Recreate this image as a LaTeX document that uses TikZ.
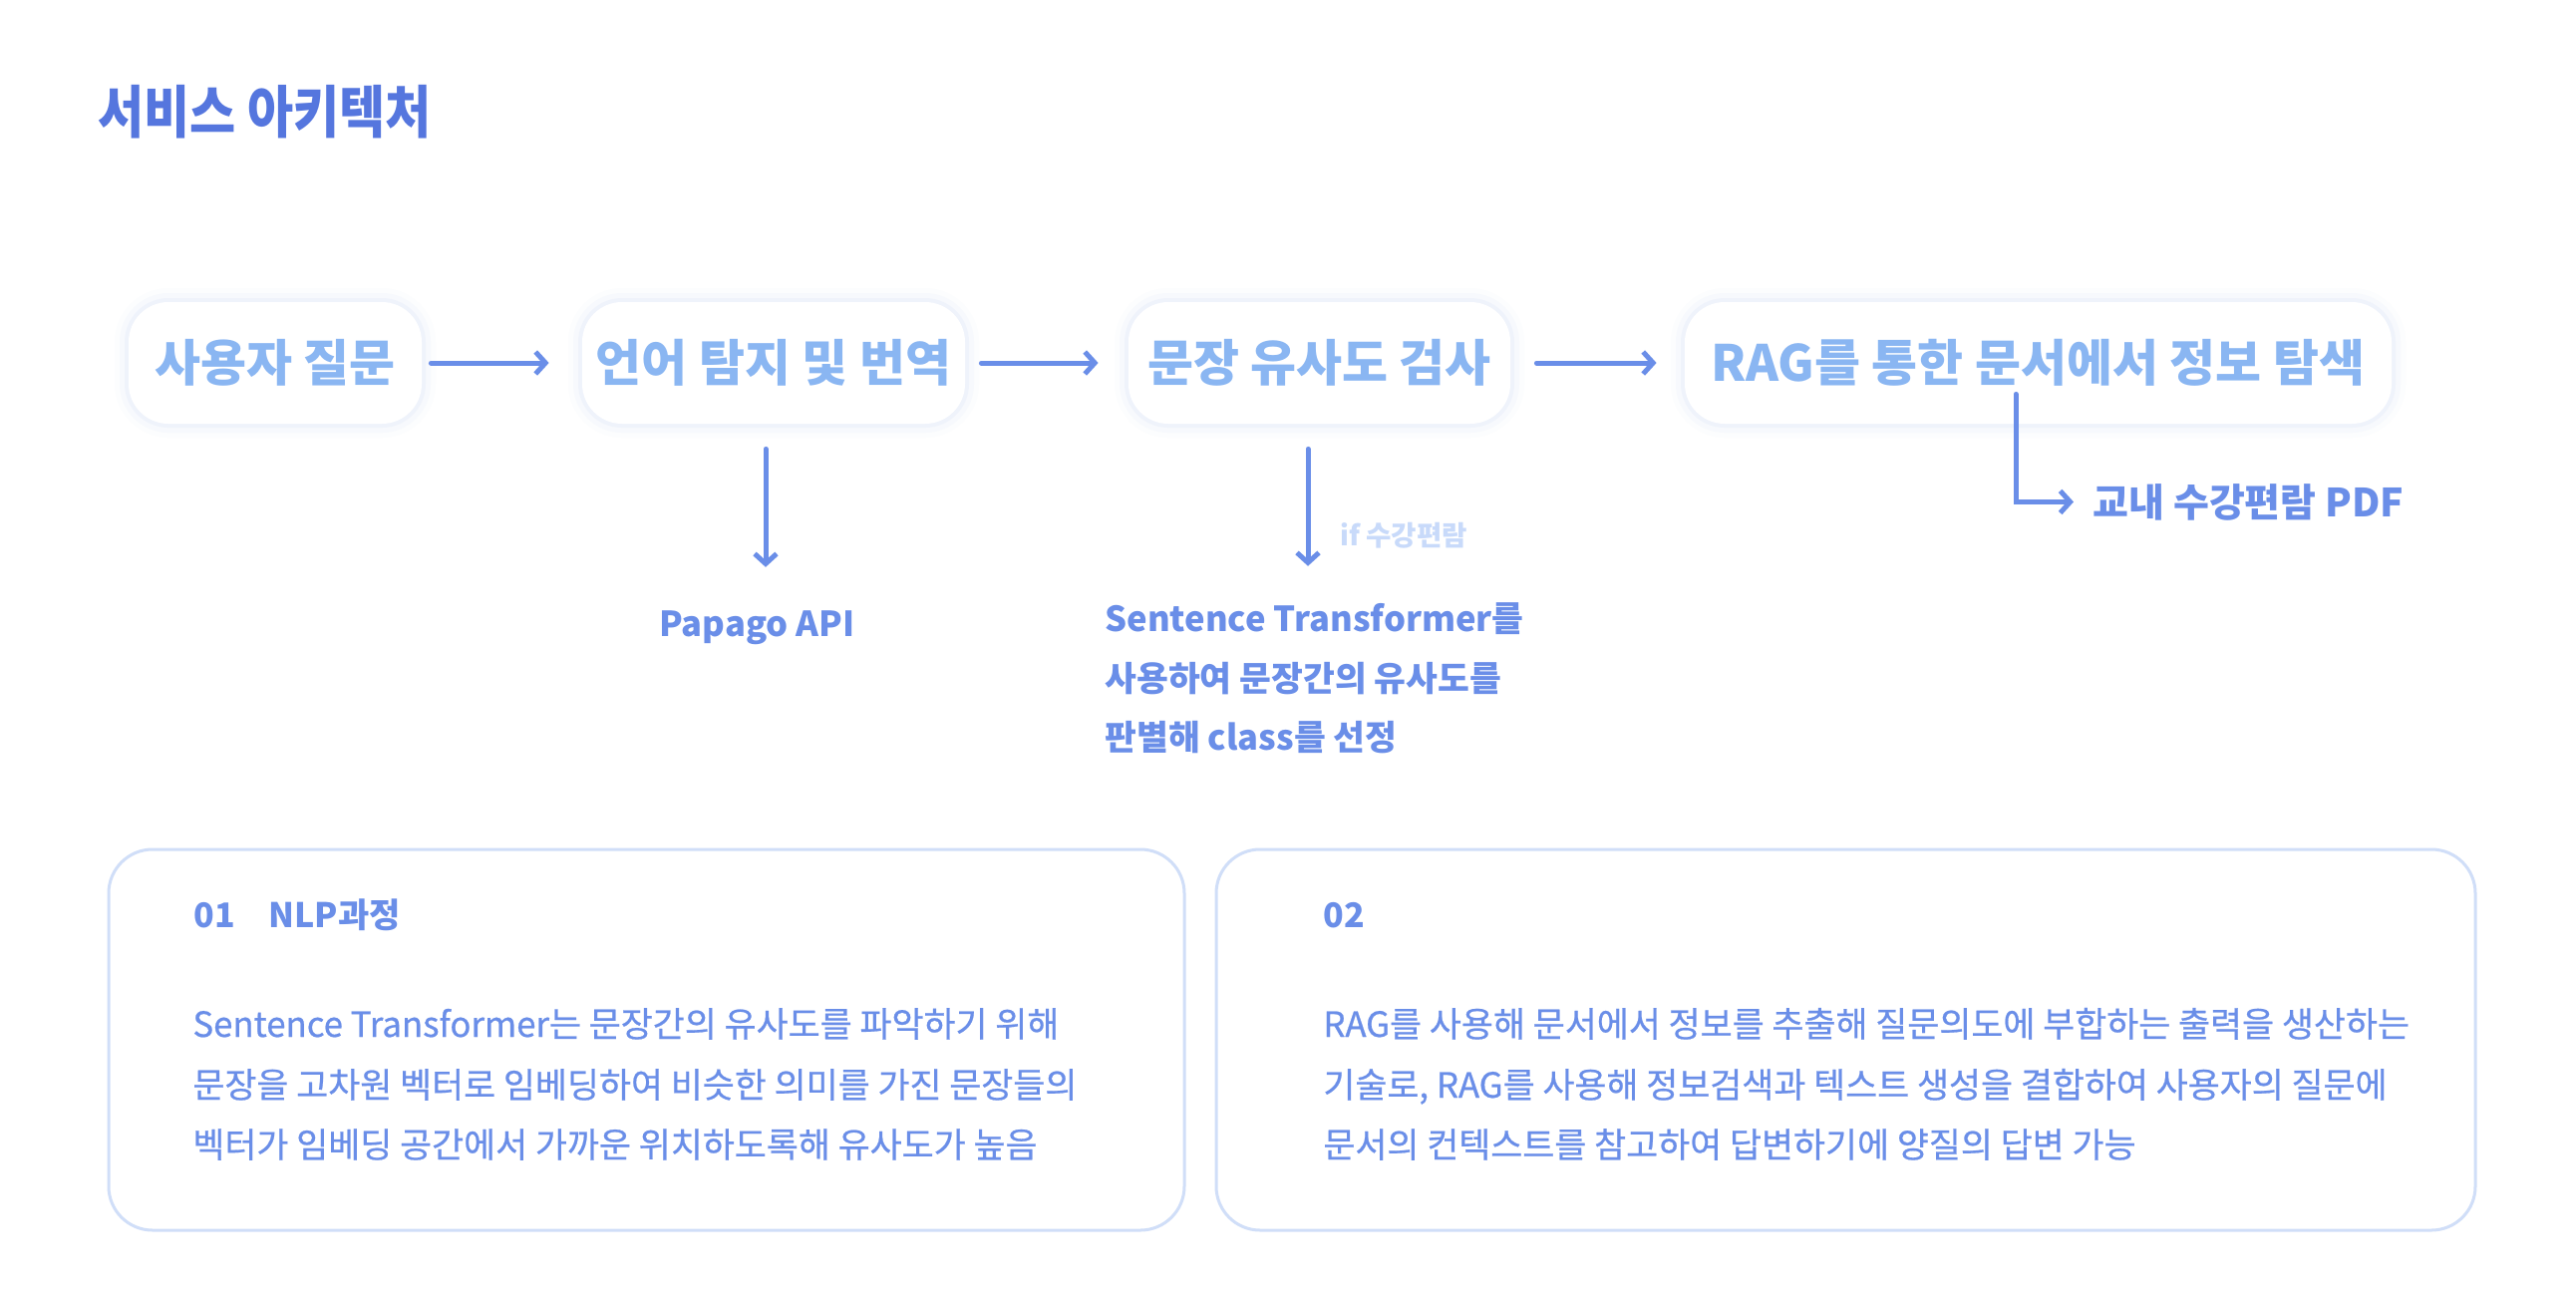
\documentclass[tikz,border=0pt]{standalone}
\usepackage{fontspec}
\setmainfont{Noto Sans CJK KR}
\newfontfamily\titlef{Noto Sans CJK KR}[FakeStretch=0.88]
\newfontfamily\bodyf{Noto Sans CJK KR}[FakeBold=0.6]
\usetikzlibrary{arrows.meta}
\definecolor{ttl}{HTML}{5576DE}
\definecolor{btx}{HTML}{8AB6F2}
\definecolor{arc}{HTML}{6A8EE8}
\definecolor{pale}{HTML}{C8DAFA}
\definecolor{pbd}{HTML}{D0DEF8}
\definecolor{glw}{HTML}{B8CCF4}
\begin{document}
\begin{tikzpicture}[x=0.5pt,y=-0.5pt,
  box/.style={rounded corners=20pt, fill=white, minimum height=61pt, inner sep=0pt,
    font=\fontsize{25}{30}\selectfont\bfseries, text=btx,
    preaction={draw=glw, line width=14pt, opacity=0.04},
    preaction={draw=glw, line width=9pt, opacity=0.07},
    preaction={draw=glw, line width=4pt, opacity=0.12}},
  arr/.style={draw=arc, line width=2.5pt, line cap=round, -{Straight Barb[length=5pt,width=11pt]}},
  panel/.style={draw=pbd, line width=1.5pt, rounded corners=22pt, fill=white, inner sep=0pt},
  lbl/.style={inner sep=0pt, anchor=base west, text=arc, font=\fontsize{17.3}{20}\selectfont\bfseries},
  body/.style={inner sep=0pt, anchor=base west, text=arc, font=\bodyf\fontsize{17.4}{20}\selectfont},
  head/.style={inner sep=0pt, anchor=base west, text=arc, font=\fontsize{17}{20}\selectfont\bfseries}
]
\useasboundingbox[fill=white] (0,0) rectangle (2584,1302);

\node[inner sep=0pt, anchor=base west, text=ttl, font=\titlef\fontsize{28.5}{32}\selectfont\bfseries] (title) at (98,133) {서비스 아키텍처};

\node[box, minimum width=147pt] (b1) at (276,364) {사용자 질문};
\node[box, minimum width=192pt] (b2) at (776,364) {언어 탐지 및 번역};
\node[box, minimum width=191.5pt] (b3) at (1323.5,364) {문장 유사도 검사};
\node[box, minimum width=354.5pt] (b4) at (2044.5,364) {RAG를 통한 문서에서 정보 탐색};

\draw[arr, shorten <=4.5pt, shorten >=16.5pt] (b1) -- (b2);
\draw[arr, shorten <=8pt, shorten >=15pt] (b2) -- (b3);
\draw[arr, shorten <=13pt, shorten >=14pt] (b3) -- (b4);

\node[lbl] (pap) at (661,638) {Papago API};
\node[lbl] (st1) at (1108,633) {Sentence Transformer를};
\node[lbl] (st2) at (1108,693) {사용하여 문장간의 유사도를};
\node[lbl] (st3) at (1108,752) {판별해 class를 선정};
\node[inner sep=0pt, anchor=base west, text=pale, font=\fontsize{13.8}{15}\selectfont\bfseries] (ifl) at (1344,547) {if 수강편람};
\node[lbl, font=\fontsize{19.5}{22}\selectfont\bfseries] (pdf) at (2099,518) {교내 수강편람 PDF};

\coordinate (v1s) at ([xshift=-4pt]b2.south);
\draw[arr, shorten <=12.5pt, shorten >=21.5pt] (v1s) -- (v1s |- pap.north);
\coordinate (v2s) at ([xshift=-5.75pt]b3.south);
\draw[arr, shorten <=12.5pt, shorten >=18pt] (v2s) -- (v2s |- st1.north);
\coordinate (v3s) at ([xshift=-11.25pt,yshift=15pt]b4.south);
\draw[arr, shorten >=9.5pt] (v3s) |- (pdf.west);

\node[panel, minimum width=539.5pt, minimum height=191pt] (p1) at (648.5,1043) {};
\node[panel, minimum width=631.5pt, minimum height=191pt] (p2) at (1851.5,1043) {};

\node[head] (h1) at (194,930) {01};
\node[head] (h1b) at (269,930) {NLP과정};
\node[head] (h2) at (1327,930) {02};

\node[body] (a1) at (193,1040) {Sentence Transformer는 문장간의 유사도를 파악하기 위해};
\node[body] (a2) at (193,1101) {문장을 고차원 벡터로 임베딩하여 비슷한 의미를 가진 문장들의};
\node[body] (a3) at (193,1161) {벡터가 임베딩 공간에서 가까운 위치하도록해 유사도가 높음};

\node[body] (c1) at (1327,1040) {RAG를 사용해 문서에서 정보를 추출해 질문의도에 부합하는 출력을 생산하는};
\node[body] (c2) at (1327,1101) {기술로, RAG를 사용해 정보검색과 텍스트 생성을 결합하여 사용자의 질문에};
\node[body] (c3) at (1327,1161) {문서의 컨텍스트를 참고하여 답변하기에 양질의 답변 가능};
\end{tikzpicture}
\end{document}
